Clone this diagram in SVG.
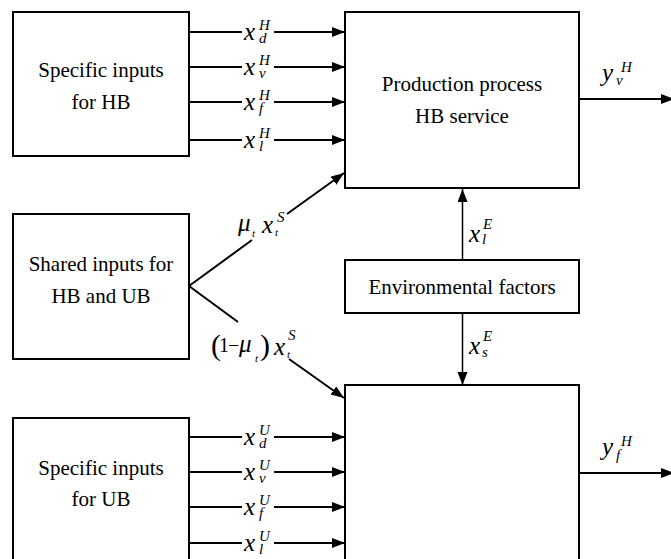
<svg xmlns="http://www.w3.org/2000/svg" width="671" height="559" viewBox="0 0 671 559">
<style>
.box{fill:#fff;stroke:#000;stroke-width:2}
.ln{stroke:#000;stroke-width:2;fill:none}
.lnv{stroke:#000;stroke-width:1.5;fill:none}
text{font-family:"Liberation Serif","Times New Roman",serif;fill:#000}
.t{font-size:21px;text-anchor:middle}
.m{font-size:25px;font-style:italic}
.s{font-size:15px;font-style:italic}
.ss{font-size:11px;font-style:italic}
.r{font-size:20px;font-style:normal}
.p{font-size:30px;font-style:normal}
</style>
<defs>
<marker id="ah" markerUnits="userSpaceOnUse" markerWidth="13" markerHeight="11" refX="13" refY="5" orient="auto">
<path d="M0,0 L13,5 L0,10 z" fill="#000"/>
</marker>
</defs>

<g id="connectors">
<path class="ln" d="M189,32 H242 M274,32 H345" marker-end="url(#ah)"/>
<path class="ln" d="M189,67 H242 M274,67 H345" marker-end="url(#ah)"/>
<path class="ln" d="M189,102 H242 M274,102 H345" marker-end="url(#ah)"/>
<path class="ln" d="M189,140 H242 M274,140 H345" marker-end="url(#ah)"/>
<path class="ln" d="M189,437 H242 M274,437 H345" marker-end="url(#ah)"/>
<path class="ln" d="M189,472 H242 M274,472 H345" marker-end="url(#ah)"/>
<path class="ln" d="M189,507 H242 M274,507 H345" marker-end="url(#ah)"/>
<path class="ln" d="M189,543 H242 M274,543 H345" marker-end="url(#ah)"/>
<path class="ln" d="M189,286 L252,240 M287,214 L344,173" marker-end="url(#ah)"/>
<path class="ln" d="M189,286 L238,322 M289,359 L344,398" marker-end="url(#ah)"/>
<path class="lnv" d="M462.5,260 V189" marker-end="url(#ah)"/>
<path class="lnv" d="M462.5,313 V385" marker-end="url(#ah)"/>
<path class="ln" d="M579,99 H674" marker-end="url(#ah)"/>
<path class="ln" d="M579,473 H674" marker-end="url(#ah)"/>

<g id="lbl-hb">
<text class="m" x="244" y="40">x<tspan class="s" x="259" y="43">d</tspan><tspan class="s" x="259" y="30">H</tspan></text>
<text class="m" x="244" y="75">x<tspan class="s" x="259" y="78">v</tspan><tspan class="s" x="259" y="65">H</tspan></text>
<text class="m" x="244" y="110">x<tspan class="s" x="259" y="113">f</tspan><tspan class="s" x="259" y="100">H</tspan></text>
<text class="m" x="244" y="148">x<tspan class="s" x="259" y="151">l</tspan><tspan class="s" x="259" y="138">H</tspan></text>
</g>
<g id="lbl-ub">
<text class="m" x="244" y="445">x<tspan class="s" x="259" y="448">d</tspan><tspan class="s" x="259" y="435">U</tspan></text>
<text class="m" x="244" y="480">x<tspan class="s" x="259" y="483">v</tspan><tspan class="s" x="259" y="470">U</tspan></text>
<text class="m" x="244" y="515">x<tspan class="s" x="259" y="518">f</tspan><tspan class="s" x="259" y="505">U</tspan></text>
<text class="m" x="244" y="551">x<tspan class="s" x="259" y="554">l</tspan><tspan class="s" x="259" y="541">U</tspan></text>
</g>
<g id="lbl-shared">
<text class="m" x="238" y="231">μ<tspan class="ss" x="252" y="237">t</tspan><tspan x="262" y="233">x</tspan><tspan class="ss" x="275" y="236">t</tspan><tspan class="s" x="277" y="222">S</tspan></text>
<text class="p" x="211" y="355">(<tspan class="r" x="219" y="352">1</tspan><tspan class="r" x="228" y="352">−</tspan><tspan class="m" x="239" y="352">μ</tspan><tspan class="ss" x="255" y="362">t</tspan><tspan x="260" y="355">)</tspan><tspan class="m" x="274" y="355">x</tspan><tspan class="ss" x="287" y="358">t</tspan><tspan class="s" x="288" y="340">S</tspan></text>
</g>
<g id="lbl-env">
<text class="m" x="469" y="242">x<tspan class="s" x="482" y="244">l</tspan><tspan class="s" x="483" y="229">E</tspan></text>
<text class="m" x="469" y="354">x<tspan class="s" x="482" y="357">s</tspan><tspan class="s" x="483" y="341">E</tspan></text>
</g>
<g id="lbl-out">
<text class="m" x="602" y="81">y<tspan class="s" x="616" y="85">v</tspan><tspan class="s" x="621" y="72">H</tspan></text>
<text class="m" x="602" y="455">y<tspan class="s" x="616" y="460">f</tspan><tspan class="s" x="621" y="446">H</tspan></text>
</g>
</g>

<g id="specific-hb">
<rect class="box" x="13" y="12" width="176" height="144"/>
<text class="t" x="101" y="77">Specific inputs</text>
<text class="t" x="101" y="109">for HB</text>
</g>
<g id="production-hb">
<rect class="box" x="345" y="12" width="234" height="176"/>
<text class="t" x="462" y="91">Production process</text>
<text class="t" x="462" y="123">HB service</text>
</g>
<g id="shared">
<rect class="box" x="13" y="214" width="176" height="145"/>
<text class="t" x="101" y="271">Shared inputs for</text>
<text class="t" x="101" y="303">HB and UB</text>
</g>
<g id="environment">
<rect class="box" x="345" y="260" width="234" height="53"/>
<text class="t" x="462" y="294">Environmental factors</text>
</g>
<g id="production-ub">
<rect class="box" x="345" y="385" width="234" height="200"/>
</g>
<g id="specific-ub">
<rect class="box" x="13" y="418" width="176" height="167"/>
<text class="t" x="101" y="475">Specific inputs</text>
<text class="t" x="101" y="506">for UB</text>
</g>
</svg>
